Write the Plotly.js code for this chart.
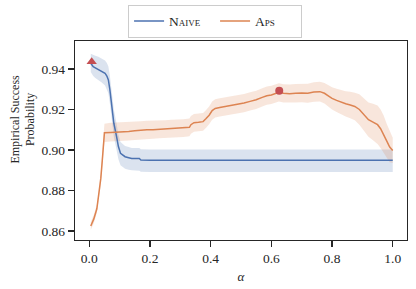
<!DOCTYPE html>
<html>
<head>
<meta charset="utf-8">
<script src="https://cdn.plot.ly/plotly-3.0.1.min.js"></script>
<style>html,body{margin:0;padding:0;background:#fff;}#chart{width:416px;height:289px;}</style>
</head>
<body>
<div id="chart"></div>
<script>
// Naive series
const naiveX = [0.005,0.013,0.02,0.03,0.04,0.052,0.058,0.063,0.068,0.074,0.081,0.09,0.096,0.103,0.11,0.118,0.13,0.14,0.165,0.17,0.2,0.4,0.6,0.8,1.0];
const naiveY = [0.9428,0.9411,0.9405,0.9398,0.9390,0.9379,0.9365,0.9346,0.9297,0.9214,0.9132,0.9066,0.9017,0.8984,0.8975,0.8967,0.8962,0.8958,0.8958,0.8951,0.8950,0.8950,0.8950,0.8950,0.8950];
const naiveUp = [0.9475,0.9468,0.9465,0.9460,0.9452,0.9442,0.9430,0.9412,0.9365,0.9285,0.9200,0.9130,0.9075,0.9040,0.9030,0.9020,0.9015,0.9010,0.9010,0.9004,0.9003,0.9003,0.9003,0.9003,0.9003];
const naiveLo = [0.9385,0.9365,0.9355,0.9345,0.9335,0.9318,0.9300,0.9280,0.9230,0.9145,0.9065,0.9000,0.8955,0.8925,0.8915,0.8908,0.8903,0.8900,0.8898,0.8893,0.8892,0.8892,0.8892,0.8892,0.8892];

// APS series
const apsX = [0.005,0.015,0.025,0.032,0.038,0.043,0.047,0.05,0.07,0.09,0.11,0.13,0.15,0.17,0.19,0.21,0.23,0.25,0.27,0.29,0.31,0.33,0.335,0.345,0.36,0.375,0.385,0.395,0.405,0.415,0.43,0.45,0.47,0.49,0.51,0.53,0.55,0.57,0.585,0.6,0.615,0.625,0.64,0.66,0.68,0.70,0.72,0.74,0.76,0.775,0.79,0.80,0.815,0.83,0.845,0.86,0.875,0.89,0.905,0.92,0.935,0.95,0.96,0.97,0.98,0.99,1.0];
const apsY = [0.8625,0.866,0.871,0.878,0.886,0.895,0.903,0.9085,0.9087,0.9088,0.9088,0.9092,0.9095,0.9098,0.9100,0.9100,0.9102,0.9103,0.9105,0.9106,0.9108,0.9112,0.9125,0.9135,0.9137,0.9140,0.9155,0.9172,0.9195,0.9205,0.9210,0.9215,0.9220,0.9225,0.9232,0.9240,0.9248,0.9260,0.9268,0.9272,0.9278,0.9285,0.9280,0.9278,0.9280,0.9282,0.9280,0.9286,0.9288,0.9280,0.9265,0.9255,0.9245,0.9235,0.9228,0.9222,0.9215,0.9200,0.9175,0.9150,0.9138,0.9125,0.9105,0.9078,0.9045,0.9015,0.8998];
const apsUp = [0.8645,0.868,0.873,0.880,0.889,0.898,0.907,0.9130,0.9135,0.9136,0.9136,0.9138,0.9140,0.9142,0.9144,0.9144,0.9146,0.9147,0.9149,0.9150,0.9152,0.9156,0.9168,0.9178,0.9180,0.9183,0.9198,0.9215,0.9240,0.9250,0.9255,0.9260,0.9265,0.9270,0.9277,0.9285,0.9293,0.9305,0.9313,0.9317,0.9323,0.9330,0.9325,0.9323,0.9326,0.9328,0.9327,0.9334,0.9337,0.9331,0.9318,0.9310,0.9302,0.9295,0.9290,0.9287,0.9283,0.9275,0.9255,0.9235,0.9228,0.9220,0.9200,0.9170,0.9130,0.9090,0.9060];
const apsLo = [0.8605,0.864,0.869,0.876,0.883,0.892,0.899,0.9040,0.9042,0.9043,0.9044,0.9047,0.9050,0.9053,0.9055,0.9056,0.9058,0.9059,0.9061,0.9062,0.9064,0.9068,0.9080,0.9090,0.9092,0.9095,0.9110,0.9127,0.9150,0.9160,0.9165,0.9170,0.9175,0.9180,0.9187,0.9195,0.9203,0.9215,0.9223,0.9227,0.9233,0.9240,0.9235,0.9233,0.9234,0.9236,0.9233,0.9238,0.9239,0.9229,0.9212,0.9200,0.9188,0.9175,0.9166,0.9157,0.9147,0.9125,0.9095,0.9065,0.9048,0.9030,0.9010,0.8986,0.8960,0.8940,0.8936];

// Best points
const naiveBest = {x: [0.008], y: [0.9436]};
const apsBest = {x: [0.626], y: [0.9293]};

const yTicks = [0.86, 0.88, 0.90, 0.92, 0.94];
const xTicks = [0.0, 0.2, 0.4, 0.6, 0.8, 1.0];
const yLabel = 'Empirical Success<br>Probability';
const xLabel = '<i>α</i>';

const blue = '#4C72B0', orange = '#DD8452', red = '#C44E52', ink = '#262626';

const traces = [
  {x: naiveX, y: naiveLo, mode: 'lines', line: {width: 0, color: blue}, showlegend: false, hoverinfo: 'skip'},
  {x: naiveX, y: naiveUp, mode: 'lines', line: {width: 0, color: blue}, fill: 'tonexty', fillcolor: 'rgba(76,114,176,0.2)', showlegend: false, hoverinfo: 'skip'},
  {x: apsX, y: apsLo, mode: 'lines', line: {width: 0, color: orange}, showlegend: false, hoverinfo: 'skip'},
  {x: apsX, y: apsUp, mode: 'lines', line: {width: 0, color: orange}, fill: 'tonexty', fillcolor: 'rgba(221,132,82,0.2)', showlegend: false, hoverinfo: 'skip'},
  {x: naiveX, y: naiveY, mode: 'lines', name: 'Naive', line: {width: 1.5, color: blue}},
  {x: apsX, y: apsY, mode: 'lines', name: 'Aps', line: {width: 1.5, color: orange}},
  {x: naiveBest.x, y: naiveBest.y, mode: 'markers', marker: {symbol: 'triangle-up', size: 9, color: red}, showlegend: false},
  {x: apsBest.x, y: apsBest.y, mode: 'markers', marker: {symbol: 'circle', size: 8, color: red}, showlegend: false}
];

const axisCommon = {
  showline: true, mirror: true, linecolor: ink, linewidth: 1.25,
  ticks: 'outside', ticklen: 6, tickwidth: 1.25, tickcolor: ink,
  showgrid: false, zeroline: false,
  tickfont: {family: 'Liberation Serif', size: 13.5, color: ink}
};

const layout = {
  width: 416, height: 289,
  margin: {l: 75, r: 9, t: 41, b: 49},
  paper_bgcolor: '#fff', plot_bgcolor: '#fff',
  font: {family: 'Liberation Serif', color: ink},
  xaxis: Object.assign({}, axisCommon, {
    range: [-0.047, 1.047], tickvals: xTicks, tickformat: '.1f',
    title: {text: xLabel, font: {family: 'Liberation Serif', size: 13, color: ink}, standoff: 6}
  }),
  yaxis: Object.assign({}, axisCommon, {
    range: [0.8556, 0.9538], tickvals: yTicks, tickformat: '.2f'
  }),
  annotations: [{
    text: yLabel, textangle: -90, xref: 'paper', yref: 'paper',
    x: -0.158, y: 0.608, xanchor: 'center', yanchor: 'middle', showarrow: false,
    font: {family: 'Liberation Serif', size: 12, color: ink}
  }],
  legend: {
    orientation: 'h', xref: 'container', yref: 'container', traceorder: 'normal',
    x: 0.517, xanchor: 'center', y: 0.984, yanchor: 'top',
    bordercolor: '#cccccc', borderwidth: 1, bgcolor: '#fff',
    font: {family: 'Liberation Serif', size: 13.5, color: ink, variant: 'small-caps'},
    itemwidth: 30, entrywidth: 41
  },
  showlegend: true
};

Plotly.newPlot('chart', traces, layout, {displayModeBar: false, staticPlot: true});
</script>
</body>
</html>
